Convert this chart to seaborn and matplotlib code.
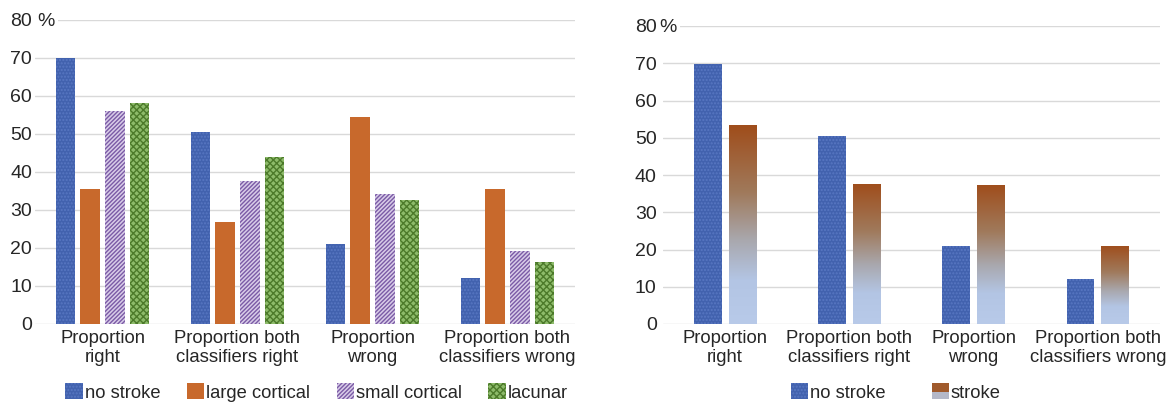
import numpy as np
import pandas as pd
import matplotlib
matplotlib.use('Agg')
import matplotlib.pyplot as plt
import seaborn as sns
from matplotlib.colors import LinearSegmentedColormap
from matplotlib.patches import Rectangle
from matplotlib.legend_handler import HandlerBase

# categories and values
categories = ['Proportion\nright', 'Proportion both\nclassifiers right',
              'Proportion\nwrong', 'Proportion both\nclassifiers wrong']

left_groups = ['no stroke', 'large cortical', 'small cortical', 'lacunar']
no_stroke = [69.8, 50.5, 21.0, 12.0]
large_cortical = [35.6, 26.7, 54.5, 35.6]
small_cortical = [56.1, 37.7, 34.2, 19.3]
lacunar = [58.2, 43.8, 32.7, 16.3]

right_groups = ['no stroke', 'stroke']
stroke = [53.3, 37.6, 37.4, 21.0]

yticks = [0, 10, 20, 30, 40, 50, 60, 70, 80]

sns.set_theme(style='white')
plt.rcParams['font.family'] = ['Liberation Sans', 'DejaVu Sans']
plt.rcParams['hatch.linewidth'] = 1.0

BLUE = '#4262AE'
ORANGE = '#C8692C'
PURPLE = '#7B5BA6'
GREEN = '#8DBB6A'
GRID = '#D9D9D9'

grad_cmap = LinearSegmentedColormap.from_list(
    'stroke_grad', [(0.0, '#B8CAE9'), (0.22, '#B3C5E4'), (0.42, '#A9A8AE'),
                    (0.66, '#A07A5C'), (1.0, '#9F4D1B')])

left_df = pd.DataFrame({
    'category': categories * 4,
    'group': np.repeat(left_groups, 4),
    'value': no_stroke + large_cortical + small_cortical + lacunar,
})
right_df = pd.DataFrame({
    'category': categories * 2,
    'group': np.repeat(right_groups, 4),
    'value': no_stroke + stroke,
})

W, H = 1168, 403
fig = plt.figure(figsize=(W / 100, H / 100), dpi=100)
ax1 = fig.add_axes([35 / W, 1 - 324 / H, 540 / W, (324 - 19.7) / H])
ax2 = fig.add_axes([663 / W, 1 - 324 / H, 497 / W, (324 - 26) / H])


def style_axis(ax, ypad, pct_offset):
    ax.set_ylim(0, 80)
    ax.set_xlim(-0.5, 3.5)
    ax.set_yticks(yticks)
    ax.set_yticklabels([str(t) for t in yticks], fontsize=14)
    ax.tick_params(axis='x', labelsize=13.3, length=0, pad=4)
    ax.tick_params(axis='y', length=0, pad=ypad)
    ax.set_xlabel('')
    ax.set_ylabel('')
    ax.grid(axis='y', color=GRID, linewidth=1)
    ax.set_axisbelow(True)
    for s in ax.spines.values():
        s.set_visible(False)
    for lab in ax.get_xticklabels():
        lab.set_linespacing(1.15)
    # the "%" sign trailing the top tick label
    ax.annotate('%', xy=(0, 80), xycoords=('axes fraction', 'data'),
                xytext=(pct_offset, 0), textcoords='offset pixels',
                ha='right', va='center_baseline', fontsize=14, zorder=5,
                bbox=dict(boxstyle='square,pad=0.15', facecolor='white',
                          edgecolor='none'))


# ---- left panel: four stroke subtypes
sns.barplot(data=left_df, x='category', y='value', hue='group', ax=ax1,
            width=0.73, gap=0.2, legend=False, saturation=1,
            palette=[BLUE, ORANGE, 'white', GREEN])
styles = [
    dict(facecolor=BLUE, edgecolor='#5877C2', hatch='.....'),
    dict(facecolor=ORANGE, edgecolor=ORANGE, hatch=None),
    dict(facecolor='#D8CCE8', edgecolor=PURPLE, hatch='////////'),
    dict(facecolor=GREEN, edgecolor='#4C7A2A', hatch='xxxxx'),
]
for cont, st in zip(ax1.containers, styles):
    for p in cont.patches:
        p.set_facecolor(st['facecolor'])
        p.set_edgecolor(st['edgecolor'])
        p.set_hatch(st['hatch'])
        p.set_linewidth(0)
style_axis(ax1, 2, 20)

# ---- right panel: no stroke vs stroke (gradient bars)
sns.barplot(data=right_df, x='category', y='value', hue='group', ax=ax2,
            width=0.56, gap=0.2, legend=False, saturation=1,
            palette=[BLUE, '#A05020'])
for p in ax2.containers[0].patches:
    p.set_facecolor(BLUE)
    p.set_edgecolor('#5877C2')
    p.set_hatch('.....')
    p.set_linewidth(0)
grad = np.linspace(0, 1, 256).reshape(-1, 1)
for p in ax2.containers[1].patches:
    x0, y0 = p.get_x(), p.get_y()
    w, h = p.get_width(), p.get_height()
    p.set_facecolor('none')
    p.set_linewidth(0)
    im = ax2.imshow(grad, extent=[x0, x0 + w, y0, y0 + h], origin='lower',
                    aspect='auto', cmap=grad_cmap, zorder=p.get_zorder(),
                    interpolation='bilinear')
    im.set_clip_path(p)
style_axis(ax2, 4.5, 14)


# ---- legends
class GradientHandler(HandlerBase):
    def create_artists(self, legend, orig_handle, xdescent, ydescent,
                       width, height, fontsize, trans):
        top = Rectangle((-xdescent, -ydescent + height * 0.45), width,
                        height * 0.55, facecolor='#A05A2C', linewidth=0,
                        transform=trans)
        bot = Rectangle((-xdescent, -ydescent), width, height * 0.45,
                        facecolor='#B4B8C8', linewidth=0, transform=trans)
        return [bot, top]


left_handles = [Rectangle((0, 0), 1, 1, linewidth=0, **st) for st in styles]
fig.legend(left_handles, left_groups, loc='center', bbox_to_anchor=(0.271, 0.026),
           ncol=4, frameon=False, fontsize=13.2, handlelength=0.95,
           handleheight=0.95, handletextpad=0.1, columnspacing=1.45,
           borderpad=0.2)

stroke_proxy = Rectangle((0, 0), 1, 1)
right_handles = [Rectangle((0, 0), 1, 1, facecolor=BLUE, edgecolor='#5877C2',
                           hatch='.....', linewidth=0), stroke_proxy]
fig.legend(right_handles, right_groups, loc='center', bbox_to_anchor=(0.767, 0.026),
           ncol=2, frameon=False, fontsize=13.2, handlelength=0.95,
           handleheight=0.95, handletextpad=0.1, columnspacing=2.5,
           borderpad=0.2, handler_map={stroke_proxy: GradientHandler()})

fig.savefig('out.png', dpi=100)
